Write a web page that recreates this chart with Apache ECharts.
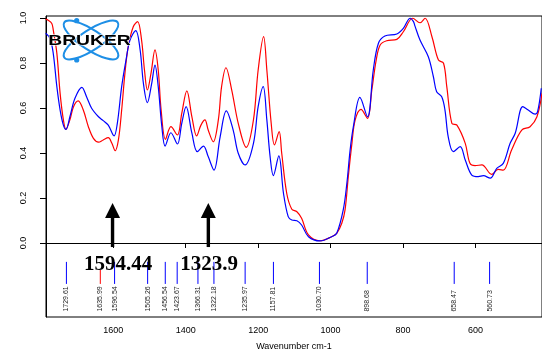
<!DOCTYPE html>
<html>
<head>
<meta charset="utf-8">
<script src="https://cdn.jsdelivr.net/npm/echarts@6/dist/echarts.min.js"></script>
<style>
  html, body { margin: 0; padding: 0; background: #fff; }
  #chart { width: 542px; height: 351px; }
</style>
</head>
<body>
<div id="chart"></div>
<script>
// red spectrum (wavenumber, absorbance)
var redWn = [1787, 1780, 1770, 1766, 1756, 1747, 1738, 1731, 1720, 1710, 1697, 1683, 1669, 1655, 1641, 1628, 1614, 1604, 1595, 1586,
  1577, 1568, 1559, 1545, 1533, 1522, 1514, 1506, 1496, 1485, 1476, 1468, 1456, 1441, 1423, 1411, 1397, 1383, 1370, 1358,
  1347, 1338, 1324, 1310, 1301, 1289, 1273, 1255, 1233, 1213, 1200, 1185, 1176, 1164, 1155, 1142, 1135, 1121, 1107, 1093,
  1080, 1061, 1029, 997, 983, 969, 960, 951, 941, 932, 916, 898, 886, 874, 863, 845, 817, 799, 773, 753,
  739, 720, 702, 688, 679, 665, 651, 628, 615, 601, 582, 555, 537, 523, 500, 472, 449, 430, 416]
var redAbs = [0.995, 0.99, 0.976, 0.947, 0.843, 0.665, 0.547, 0.505, 0.547, 0.606, 0.632, 0.591, 0.517, 0.465, 0.448, 0.458, 0.468, 0.443, 0.41, 0.458,
  0.591, 0.754, 0.872, 0.961, 0.984, 0.902, 0.769, 0.68, 0.754, 0.858, 0.769, 0.591, 0.461, 0.517, 0.48, 0.576, 0.676, 0.561, 0.476, 0.524,
  0.547, 0.502, 0.45, 0.547, 0.695, 0.779, 0.68, 0.532, 0.425, 0.547, 0.769, 0.917, 0.769, 0.532, 0.436, 0.495, 0.4, 0.22, 0.15, 0.139,
  0.11, 0.036, 0.01, 0.028, 0.043, 0.088, 0.147, 0.295, 0.443, 0.547, 0.594, 0.554, 0.68, 0.813, 0.88, 0.899, 0.905, 0.939, 0.999, 0.979,
  0.999, 0.917, 0.813, 0.799, 0.695, 0.532, 0.524, 0.443, 0.354, 0.344, 0.347, 0.305, 0.327, 0.324, 0.413, 0.502, 0.517, 0.561, 0.665]

// blue spectrum
var blueWn = [1787, 1775, 1766, 1756, 1747, 1738, 1731, 1720, 1706, 1687, 1674, 1660, 1641, 1628, 1614, 1598, 1589, 1577, 1565, 1554,
  1538, 1526, 1517, 1506, 1494, 1485, 1476, 1466, 1457, 1441, 1423, 1411, 1399, 1383, 1368, 1351, 1338, 1322, 1305, 1288,
  1269, 1255, 1236, 1213, 1200, 1186, 1176, 1167, 1158, 1143, 1130, 1117, 1107, 1093, 1080, 1061, 1029, 997, 983, 965,
  955, 946, 937, 919, 898, 882, 868, 850, 817, 799, 780, 771, 767, 753, 730, 716, 707, 693, 684, 675,
  661, 642, 628, 610, 592, 578, 559, 541, 523, 504, 490, 469, 454, 435, 428, 418]
var blueAbs = [0.932, 0.91, 0.843, 0.695, 0.591, 0.524, 0.505, 0.561, 0.643, 0.692, 0.65, 0.599, 0.561, 0.544, 0.524, 0.476, 0.532, 0.695, 0.813, 0.902,
  0.944, 0.858, 0.71, 0.624, 0.71, 0.791, 0.695, 0.517, 0.431, 0.49, 0.44, 0.532, 0.606, 0.488, 0.406, 0.431, 0.384, 0.324, 0.472, 0.587,
  0.502, 0.399, 0.347, 0.443, 0.606, 0.695, 0.547, 0.384, 0.299, 0.387, 0.22, 0.117, 0.102, 0.099, 0.08, 0.028, 0.009, 0.028, 0.043, 0.147,
  0.265, 0.413, 0.517, 0.647, 0.561, 0.769, 0.887, 0.92, 0.929, 0.954, 0.999, 0.984, 0.965, 0.902, 0.828, 0.739, 0.672, 0.65, 0.591, 0.472,
  0.406, 0.428, 0.369, 0.302, 0.295, 0.299, 0.288, 0.332, 0.354, 0.443, 0.488, 0.606, 0.591, 0.573, 0.585, 0.688]

// peak picks
var peakWn = [1729.61, 1635.99, 1596.54, 1505.26, 1456.54, 1423.67, 1366.31, 1322.18, 1235.97, 1157.81, 1030.70, 898.68, 658.47, 560.73]
var peakText = ['1729.61', '1635.99', '1596.54', '1505.26', '1456.54', '1423.67', '1366.31', '1322.18', '1235.97', '1157.81', '1030.70', '898.68', '658.47', '560.73']
var peakColor = ['blue', 'red', 'blue', 'blue', 'blue', 'blue', 'blue', 'blue', 'blue', 'blue', 'blue', 'blue', 'blue', 'blue']

// arrows
var arrowWn = [1602.2, 1337.6]
var arrowText = ['1594.44', '1323.9']

// ticks
var xTicks = [1600, 1400, 1200, 1000, 800, 600]
var yTicks = [0, 0.2, 0.4, 0.6, 0.8, 1.0]

function pairs (xs, ys) {
  return xs.map(function (x, i) { return [x, ys[i]] })
}

var myChart = echarts.init(document.getElementById('chart'))

myChart.setOption({
  animation: false,
  grid: {
    left: 46, right: 0, top: 16, bottom: 34,
    containLabel: false, outerBoundsMode: 'none',
    show: true, borderColor: '#000', borderWidth: 1
  },
  xAxis: {
    type: 'value',
    inverse: true,
    min: 416,
    max: 1786,
    name: 'Wavenumber cm-1',
    nameLocation: 'middle',
    nameGap: 25,
    nameTextStyle: { fontFamily: 'Liberation Sans', fontSize: 9, color: '#000' },
    axisLine: { lineStyle: { color: '#000', width: 1 } },
    axisTick: { customValues: xTicks, length: 5, lineStyle: { color: '#000' } },
    axisLabel: {
      customValues: xTicks, margin: 9, fontFamily: 'Liberation Sans', fontSize: 9, color: '#000',
      formatter: function (v) { return String(v) }
    },
    splitLine: { show: false }
  },
  yAxis: {
    type: 'value',
    min: -0.329,
    max: 1.009,
    axisLine: { show: true, lineStyle: { color: '#000', width: 1 } },
    axisTick: { show: true, customValues: yTicks, length: 6, lineStyle: { color: '#000' } },
    axisLabel: {
      customValues: yTicks,
      rotate: 90,
      margin: 18,
      fontFamily: 'Liberation Sans',
      fontSize: 9,
      color: '#000',
      formatter: function (v) { return v.toFixed(1) }
    },
    splitLine: { show: false }
  },
  series: [
    {
      type: 'line',
      data: pairs(redWn, redAbs),
      showSymbol: false,
      smooth: 0.35,
      lineStyle: { color: '#ff0000', width: 1.2 },
      z: 3
    },
    {
      type: 'line',
      data: pairs(blueWn, blueAbs),
      showSymbol: false,
      smooth: 0.35,
      lineStyle: { color: '#0000ff', width: 1.2 },
      z: 4
    },
    {
      type: 'custom',
      data: peakWn.map(function (w, i) { return [w, i] }),
      renderItem: function (params, api) {
        var i = api.value(1)
        var w = api.value(0)
        var red = peakColor[i] === 'red'
        var p1 = api.coord([w, red ? -0.12 : -0.084])
        var p2 = api.coord([w, -0.182])
        var t = api.coord([w, -0.305])
        return {
          type: 'group',
          children: [
            {
              type: 'line',
              shape: { x1: p1[0], y1: p1[1], x2: p2[0], y2: p2[1] },
              style: { stroke: red ? '#ff0000' : '#0000ff', lineWidth: 1 }
            },
            {
              type: 'text',
              x: t[0],
              y: t[1],
              rotation: Math.PI / 2,
              style: { text: peakText[i], font: '7px "Liberation Sans"', fill: '#222', align: 'left', verticalAlign: 'middle' }
            }
          ]
        }
      },
      z: 5
    },
    {
      type: 'custom',
      data: arrowWn.map(function (w, i) { return [w, i] }),
      renderItem: function (params, api) {
        var i = api.value(1)
        var w = api.value(0)
        var apex = api.coord([w, 0.178])
        var base = api.coord([w, 0.111])
        var foot = api.coord([w, -0.018])
        var lab = api.coord([w, -0.098])
        var off = i === 0 ? 5.5 : 0.7
        return {
          type: 'group',
          children: [
            {
              type: 'polygon',
              shape: { points: [[apex[0], apex[1]], [apex[0] - 7.5, base[1]], [apex[0] + 7.5, base[1]]] },
              style: { fill: '#000' }
            },
            {
              type: 'rect',
              shape: { x: apex[0] - 1.7, y: base[1] - 1, width: 3.4, height: foot[1] - base[1] + 1 },
              style: { fill: '#000' }
            },
            {
              type: 'text',
              x: lab[0] + off,
              y: lab[1],
              style: { text: arrowText[i], font: 'bold 21px "Liberation Serif"', fill: '#000', align: 'center', verticalAlign: 'middle' }
            }
          ]
        }
      },
      z: 6
    }
  ],
  // Bruker logo
  graphic: [
    {
      type: 'ellipse',
      shape: { cx: 0, cy: 0, rx: 32, ry: 10 },
      x: 91, y: 40, rotation: 0.58,
      style: { fill: null, stroke: '#1e8fe6', lineWidth: 2 },
      z: 10
    },
    {
      type: 'ellipse',
      shape: { cx: 0, cy: 0, rx: 32, ry: 10 },
      x: 91, y: 40, rotation: -0.58,
      style: { fill: null, stroke: '#1e8fe6', lineWidth: 2 },
      z: 10
    },
    { type: 'circle', shape: { cx: 76.7, cy: 20.7, r: 2.6 }, style: { fill: '#1e8fe6' }, z: 10 },
    { type: 'circle', shape: { cx: 76.7, cy: 60, r: 2.6 }, style: { fill: '#1e8fe6' }, z: 10 },
    {
      type: 'text',
      x: 89.5, y: 41, scaleX: 1.38,
      style: {
        text: 'BRUKER', font: 'bold 14px "Liberation Sans"', fill: '#000',
        align: 'center', verticalAlign: 'middle', stroke: '#fff', lineWidth: 1
      },
      z: 11
    }
  ]
})
</script>
</body>
</html>
